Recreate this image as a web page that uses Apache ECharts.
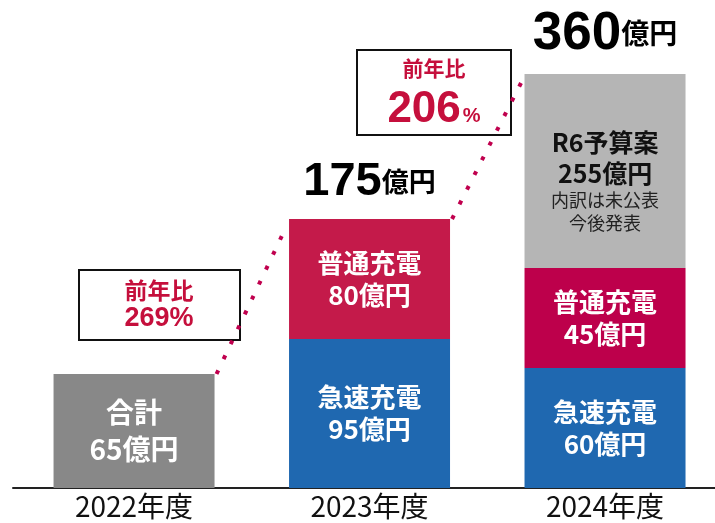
<!DOCTYPE html>
<html><head><meta charset="utf-8">
<script src="https://cdn.jsdelivr.net/npm/echarts@6/dist/echarts.min.js"></script>
<style>html,body{margin:0;padding:0;background:#fff}#c{width:715px;height:523px}</style>
</head><body><div id="c"></div>
<script>
// ---- data ----
const categories = ['2022年度', '2023年度', '2024年度'];
// bar heights as drawn in the picture (the original is not to scale)
const sumHeights    = [114, '-', '-'];
const fastHeights   = ['-', 149, 120];
const normalHeights = ['-', 120, 100];
const budgetHeights = ['-', '-', 194];
// values printed on the chart (億円)
const sumValues    = [65, null, null];
const fastValues   = [null, 95, 60];
const normalValues = [null, 80, 45];
const budgetValues = [null, null, 255];
const totalValues  = [65, 175, 360];
const yoyValues    = [269, 206];

const CJK = '"Noto Sans CJK JP", "Noto Sans", sans-serif';
const LAT = '"Liberation Sans", Arial, "Noto Sans CJK JP", sans-serif';
const num = v => (v === '-' ? 0 : v);
const stackTop = categories.map((_, i) => num(sumHeights[i]) + num(fastHeights[i]) + num(normalHeights[i]) + num(budgetHeights[i]));
const BAR_W = 161;
// [height, categoryIndex] so that the stacked dimension is the height
const pairs = arr => arr.map((v, i) => [v, i]);
const ENC = { x: 1, y: 0 };

const inLabel = (arr, name, fs, lh) => ({
  show: true, position: 'inside', color: '#fff',
  formatter: p => arr[p.dataIndex] == null ? '' : '{a|' + name + '}\n{b|' + arr[p.dataIndex] + '億円}',
  rich: {
    a: { fontFamily: CJK, fontSize: fs, fontWeight: 'bold', color: '#fff', lineHeight: lh },
    b: { fontFamily: CJK, fontSize: fs, fontWeight: 'bold', color: '#fff', lineHeight: lh }
  }
});

const connectors = [[0, stackTop[0], 1, stackTop[1]], [1, stackTop[1], 2, stackTop[2]]];
const totalsData = [[1, stackTop[1], totalValues[1]], [2, stackTop[2], totalValues[2]]];
const totalFont = [0, 47, 53];
const totalUnitFont = [0, 27, 28];

const chart = echarts.init(document.getElementById('c'), null, { renderer: 'canvas' });
chart.setOption({
  animation: false,
  backgroundColor: '#fff',
  grid: { left: 13, right: 0, top: 38, height: 450 },
  xAxis: {
    type: 'value', min: -0.514, max: 2.467,
    splitLine: { show: false },
    axisLine: { show: true, onZero: false, lineStyle: { color: '#222', width: 2 } },
    axisTick: { show: false },
    axisLabel: { customValues: [0, 1, 2], formatter: v => categories[Math.round(v)] || '',
      color: '#111', fontFamily: CJK, fontSize: 28, margin: 4 }
  },
  yAxis: { type: 'value', min: 0, max: 450, show: false },
  series: [
    { name: '合計', type: 'bar', stack: 's', barWidth: BAR_W, encode: ENC, data: pairs(sumHeights),
      itemStyle: { color: '#888888' }, label: inLabel(sumValues, '合計', 28, 37) },
    { name: '急速充電', type: 'bar', stack: 's', barWidth: BAR_W, encode: ENC, data: pairs(fastHeights),
      itemStyle: { color: '#1f68b0' }, label: inLabel(fastValues, '急速充電', 26, 32) },
    { name: '普通充電', type: 'bar', stack: 's', barWidth: BAR_W, encode: ENC,
      data: normalHeights.map((v, i) => ({ value: [v, i], itemStyle: { color: i === 2 ? '#bd004b' : '#c41a4a' } })),
      label: inLabel(normalValues, '普通充電', 26, 32) },
    { name: 'R6予算案', type: 'bar', stack: 's', barWidth: BAR_W, encode: ENC, data: pairs(budgetHeights),
      itemStyle: { color: '#b5b5b5' },
      label: {
        show: true, position: 'inside', offset: [0, 10],
        formatter: p => budgetValues[p.dataIndex] == null ? '' :
          '{a|R6予算案}\n{a|' + budgetValues[p.dataIndex] + '億円}\n{c|内訳は未公表}\n{c|今後発表}',
        rich: {
          a: { fontFamily: CJK, fontSize: 25, fontWeight: 'bold', color: '#111', lineHeight: 31 },
          c: { fontFamily: CJK, fontSize: 18, color: '#222', lineHeight: 23 }
        }
      } },
    { name: 'connector', type: 'custom', data: connectors, z: 1, silent: true,
      renderItem: (params, api) => {
        const p1 = api.coord([api.value(0), api.value(1)]);
        const p2 = api.coord([api.value(2), api.value(3)]);
        return { type: 'line',
          shape: { x1: p1[0] + BAR_W / 2 + 2, y1: p1[1], x2: p2[0] - BAR_W / 2 - 2, y2: p2[1] + 6 },
          style: { stroke: '#c0004e', lineWidth: 4, lineDash: [4, 12.5], lineCap: 'butt' } };
      } },
    { name: 'totals', type: 'custom', data: totalsData, z: 5, silent: true,
      renderItem: (params, api) => {
        const i = api.value(0);
        const p = api.coord([i, api.value(1)]);
        return { type: 'text', x: p[0], y: p[1] - 13,
          style: { text: '{n|' + api.value(2) + '}{u|億円}', align: 'center', verticalAlign: 'bottom',
            rich: {
              n: { fontFamily: LAT, fontSize: totalFont[i], fontWeight: 'bold', fill: '#000', color: '#000' },
              u: { fontFamily: CJK, fontSize: totalUnitFont[i], fontWeight: 'bold', fill: '#000', color: '#000', padding: [0, 0, 2, 0] }
            } } };
      } }
  ],
  graphic: [
    { type: 'group', left: 78, top: 269, z: 10, children: [
      { type: 'rect', shape: { x: 0, y: 0, width: 161, height: 70 }, style: { fill: '#fff', stroke: '#111', lineWidth: 2 } },
      { type: 'text', x: 80, y: 20, style: { text: '前年比', fill: '#c50f3c', font: 'bold 23px ' + CJK, align: 'center', verticalAlign: 'middle' } },
      { type: 'text', x: 80, y: 49, style: { text: yoyValues[0] + '%', fill: '#c50f3c', font: 'bold 27px ' + LAT, align: 'center', verticalAlign: 'middle' } }
    ] },
    { type: 'group', left: 356, top: 49, z: 10, children: [
      { type: 'rect', shape: { x: 0, y: 0, width: 154, height: 85 }, style: { fill: '#fff', stroke: '#111', lineWidth: 2 } },
      { type: 'text', x: 77, y: 18, style: { text: '前年比', fill: '#c50f3c', font: 'bold 21px ' + CJK, align: 'center', verticalAlign: 'middle' } },
      { type: 'text', x: 77, y: 60, style: { text: '{n|' + yoyValues[1] + '}{p|%}', align: 'center', verticalAlign: 'middle',
        rich: { n: { fontFamily: LAT, fontSize: 44, fontWeight: 'bold', fill: '#c50f3c', color: '#c50f3c' },
                p: { fontFamily: LAT, fontSize: 20, fontWeight: 'bold', fill: '#c50f3c', color: '#c50f3c', padding: [12, 0, 0, 2] } } } }
    ] }
  ]
});
</script></body></html>
